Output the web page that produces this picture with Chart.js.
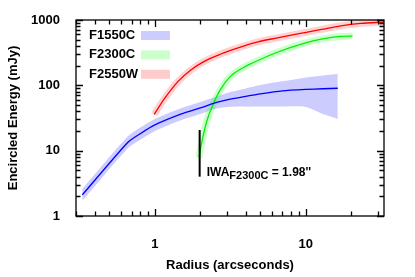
<!DOCTYPE html>
<html>
<head>
<meta charset="utf-8">
<script src="https://cdn.jsdelivr.net/npm/chart.js@4.4.1/dist/chart.umd.min.js"></script>
<style>
  html, body { margin: 0; padding: 0; background: #fff; }
  #wrap { width: 415px; height: 277px; }
</style>
</head>
<body>
<div id="wrap"><canvas id="myChart" width="415" height="277"></canvas></div>
<script>
// F1550C: encircled energy with uncertainty band
const radiusBlue = [0.33, 0.66, 0.8, 1.0, 1.5, 2.0, 2.5, 3, 4, 5, 7, 10, 13, 16.3];
const fluxBlue   = [2.10, 13.35, 18.2, 24.8, 36.5, 45.1, 53.8, 59.8, 67.6, 73.9, 82.1, 86.5, 88.7, 90.3];
const upperBlue  = [2.59, 16.5, 22.6, 30.6, 45.1, 55.7, 66.4, 76.5, 89.6, 101, 115, 132, 142, 149];
const lowerBlue  = [1.70, 10.8, 14.7, 20.0, 29.5, 36.5, 43.5, 46.7, 47.5, 47.5, 47.5, 46.7, 36.5, 30.6];

// F2300C
const radiusGreen = [1.96, 2.06, 2.22, 2.45, 2.71, 3.15, 3.84, 4.4, 6.48, 10.1, 12.7, 17.1, 20.4];
const fluxGreen   = [7.9, 14.6, 29.5, 53, 85, 136, 186, 218, 321, 450, 510, 560, 568];

// F2550W
const radiusRed = [0.99, 1.16, 1.42, 1.73, 2.11, 2.71, 3.56, 4.81, 6.48, 10.1, 12.7, 17.1, 23.1, 33];
const fluxRed   = [36, 63, 114, 172, 231, 299, 374, 462, 532, 649, 718, 815, 885, 928];

// inner working angle marker
const iwaRadius = 1.98;
const iwaRange = [4, 20.7];

const xTicks = [1, 10];
const yTicks = [1, 10, 100, 1000];

const legendItems = [
    { label: 'F1550C', color: '#ccccff' },
    { label: 'F2300C', color: '#ccffcc' },
    { label: 'F2550W', color: '#ffcccc' }
];

const pts = (xs, ys) => xs.map((x, i) => ({ x: x, y: ys[i] }));
const FONT = '"Liberation Sans", Arial, sans-serif';

// gnuplot-ish frame: box + inward ticks on all four sides, legend, IWA label
const framePlugin = {
    id: 'frame',
    afterDraw(chart) {
        const ctx = chart.ctx;
        const a = chart.chartArea;
        const xs = chart.scales.x, ys = chart.scales.y;
        ctx.save();
        ctx.strokeStyle = '#000';
        ctx.lineWidth = 1.3;
        ctx.strokeRect(a.left, a.top, a.right - a.left, a.bottom - a.top);

        ctx.beginPath();
        for (let d = 0.1; d <= 10; d *= 10) {
            for (let m = 1; m <= 9; m++) {
                const v = d * m;
                if (v < xs.min || v > xs.max) continue;
                const px = Math.round(xs.getPixelForValue(v)) + 0.5;
                const len = m === 1 ? 7 : 4.5;
                ctx.moveTo(px, a.bottom); ctx.lineTo(px, a.bottom - len);
                ctx.moveTo(px, a.top); ctx.lineTo(px, a.top + len);
            }
        }
        for (let d = 1; d <= 1000; d *= 10) {
            for (let m = 1; m <= 9; m++) {
                const v = d * m;
                if (v < ys.min || v > ys.max) continue;
                const py = Math.round(ys.getPixelForValue(v)) + 0.5;
                const len = m === 1 ? 7 : 4.5;
                ctx.moveTo(a.left, py); ctx.lineTo(a.left + len, py);
                ctx.moveTo(a.right, py); ctx.lineTo(a.right - len, py);
            }
        }
        ctx.stroke();

        // legend inside the plot
        ctx.font = 'bold 13px ' + FONT;
        ctx.textBaseline = 'middle';
        legendItems.forEach((it, i) => {
            const cy = 35.5 + i * 19.4;
            ctx.fillStyle = '#000';
            ctx.fillText(it.label, 89, cy);
            ctx.fillStyle = it.color;
            ctx.fillRect(141, cy - 4.5, 29, 9);
        });

        // IWA label with subscript
        const tx = xs.getPixelForValue(iwaRadius) + 7;
        const ty = ys.getPixelForValue(iwaRange[0]) - 1;
        ctx.fillStyle = '#000';
        ctx.textBaseline = 'alphabetic';
        ctx.font = 'bold 12px ' + FONT;
        ctx.fillText('IWA', tx, ty);
        let w = ctx.measureText('IWA').width;
        ctx.font = 'bold 11px ' + FONT;
        ctx.fillText('F2300C', tx + w, ty + 3.3);
        w += ctx.measureText('F2300C').width;
        ctx.font = 'bold 12px ' + FONT;
        ctx.fillText(' = 1.98\'\'', tx + w, ty);
        ctx.restore();
    }
};

const ctx = document.getElementById('myChart').getContext('2d');
const myChart = new Chart(ctx, {
    type: 'line',
    data: {
        datasets: [
            {   // band upper edge, filled down to the next dataset
                data: pts(radiusBlue, upperBlue),
                borderWidth: 0,
                pointRadius: 0,
                backgroundColor: '#ccccff',
                fill: '+1',
                tension: 0.3,
                order: 10
            },
            {
                data: pts(radiusBlue, lowerBlue),
                borderWidth: 0,
                pointRadius: 0,
                fill: false,
                tension: 0.3,
                order: 11
            },
            {   // glow under red
                data: pts(radiusRed, fluxRed),
                borderColor: 'rgba(255,0,0,0.18)',
                borderWidth: 7,
                pointRadius: 0,
                cubicInterpolationMode: 'monotone',
                order: 9
            },
            {   // glow under green
                data: pts(radiusGreen, fluxGreen),
                borderColor: 'rgba(0,255,0,0.2)',
                borderWidth: 7,
                pointRadius: 0,
                cubicInterpolationMode: 'monotone',
                order: 9
            },
            {
                label: 'F1550C',
                data: pts(radiusBlue, fluxBlue),
                borderColor: '#0000ff',
                borderWidth: 1.3,
                pointRadius: 0,
                tension: 0.2,
                order: 2
            },
            {
                label: 'F2300C',
                data: pts(radiusGreen, fluxGreen),
                borderColor: '#00ee00',
                borderWidth: 1.3,
                pointRadius: 0,
                cubicInterpolationMode: 'monotone',
                order: 2
            },
            {
                label: 'F2550W',
                data: pts(radiusRed, fluxRed),
                borderColor: '#ff0000',
                borderWidth: 1.3,
                pointRadius: 0,
                cubicInterpolationMode: 'monotone',
                order: 2
            },
            {
                data: [{ x: iwaRadius, y: iwaRange[0] }, { x: iwaRadius, y: iwaRange[1] }],
                borderColor: '#000',
                borderWidth: 2,
                pointRadius: 0,
                order: 1
            }
        ]
    },
    options: {
        responsive: false,
        animation: false,
        layout: { padding: { top: 20, right: 31, left: 0, bottom: 0 } },
        plugins: {
            legend: { display: false },
            tooltip: { enabled: false }
        },
        scales: {
            x: {
                type: 'logarithmic',
                min: 0.33,
                max: 33,
                grid: { display: false },
                border: { display: false },
                afterBuildTicks: s => { s.ticks = xTicks.map(v => ({ value: v })); },
                afterFit: s => { s.height = 61; },
                ticks: {
                    autoSkip: false,
                    maxRotation: 0,
                    padding: 13,
                    color: '#000',
                    font: { family: FONT, size: 13, weight: 'bold' },
                    callback: v => String(v)
                },
                title: {
                    display: true,
                    text: 'Radius (arcseconds)',
                    color: '#000',
                    font: { family: FONT, size: 13, weight: 'bold' },
                    padding: { top: 0, bottom: 4 }
                }
            },
            y: {
                type: 'logarithmic',
                min: 1,
                max: 1000,
                grid: { display: false },
                border: { display: false },
                afterBuildTicks: s => { s.ticks = yTicks.map(v => ({ value: v })); },
                afterFit: s => { s.width = 76; },
                ticks: {
                    autoSkip: false,
                    padding: 8,
                    color: '#000',
                    font: { family: FONT, size: 13, weight: 'bold' },
                    callback: v => String(v)
                },
                title: {
                    display: true,
                    text: 'Encircled Energy (mJy)',
                    color: '#000',
                    font: { family: FONT, size: 13, weight: 'bold' },
                    padding: { top: 6, bottom: 0 }
                }
            }
        }
    },
    plugins: [framePlugin]
});
</script>
</body>
</html>
